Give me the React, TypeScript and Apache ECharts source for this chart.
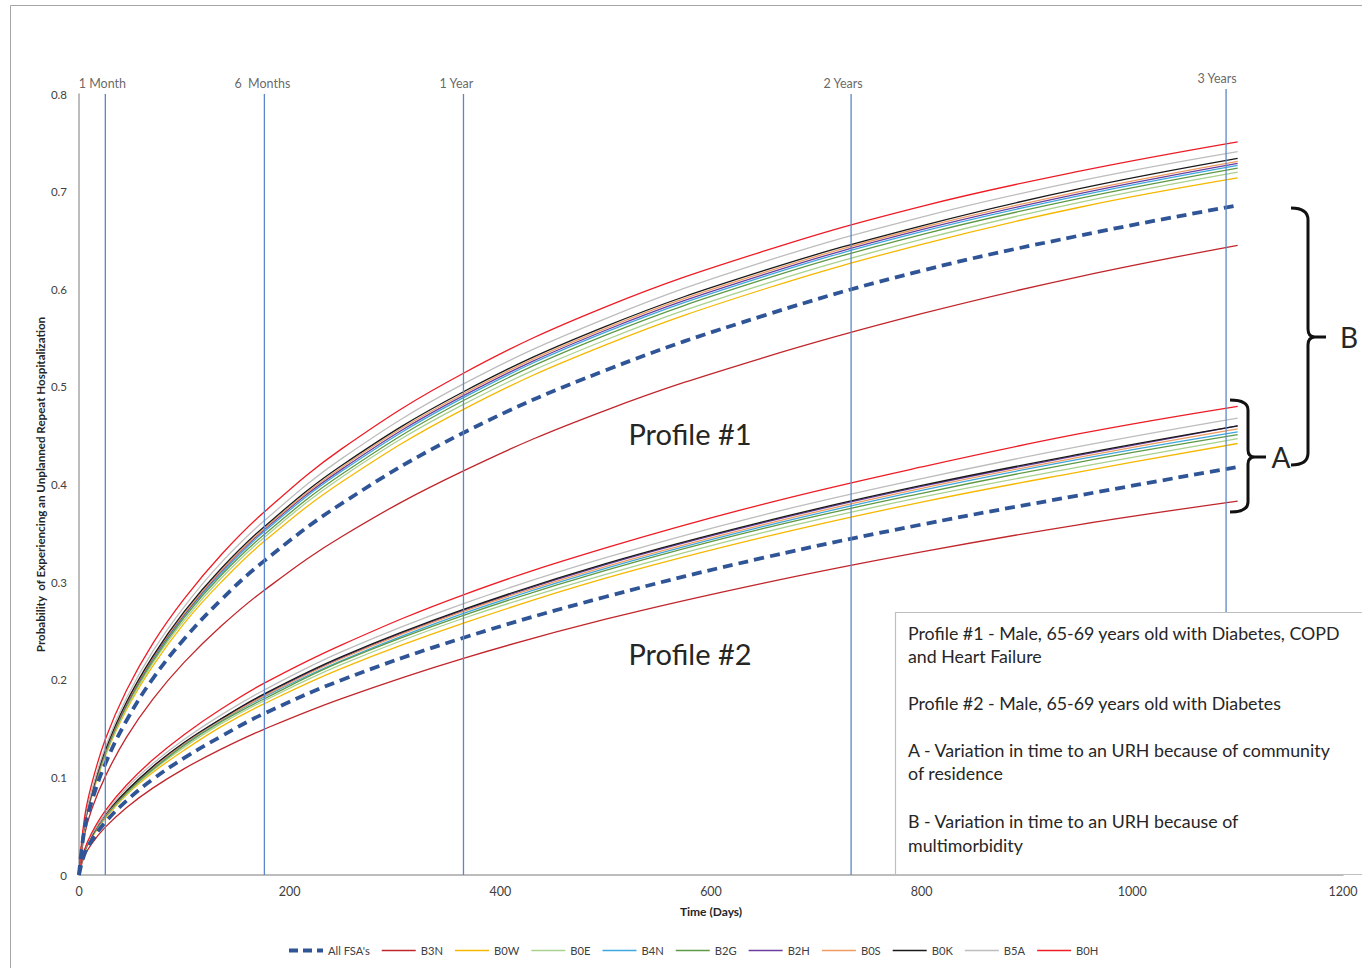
import React, { useEffect, useRef } from "react";
import * as echarts from "echarts";

// ---- data ----
const days = [0, 5, 12, 25, 45, 70, 100, 135, 175, 250, 365, 500, 650, 800, 950, 1100];

const seriesNames = ["All FSA's", "B3N", "B0W", "B0E", "B4N", "B2G", "B2H", "B0S", "B0K", "B5A", "B0H"];
const seriesColors = ["#2F5597", "#C0262C", "#F5B800", "#A9D18E", "#3FA7DE", "#5E9A46", "#6B3FA0", "#EE9B62", "#1A1A1A", "#BDBDBD", "#EE1C25"];

// Profile #1
const p1All = [0, 0.045, 0.075, 0.114, 0.158, 0.201, 0.242, 0.282, 0.321, 0.381, 0.453, 0.517, 0.573, 0.619, 0.655, 0.686];
const p1B3N = [0, 0.040, 0.067, 0.101, 0.141, 0.180, 0.218, 0.255, 0.291, 0.347, 0.414, 0.476, 0.530, 0.575, 0.613, 0.645];
const p1B0W = [0, 0.048, 0.080, 0.122, 0.169, 0.214, 0.258, 0.300, 0.341, 0.403, 0.477, 0.543, 0.600, 0.646, 0.684, 0.714];
const p1B0E = [0, 0.049, 0.081, 0.123, 0.171, 0.217, 0.261, 0.304, 0.345, 0.408, 0.482, 0.548, 0.605, 0.651, 0.689, 0.720];
const p1B4N = [0, 0.050, 0.083, 0.126, 0.174, 0.221, 0.266, 0.309, 0.351, 0.414, 0.489, 0.556, 0.613, 0.659, 0.696, 0.727];
const p1B2G = [0, 0.050, 0.082, 0.125, 0.173, 0.219, 0.264, 0.307, 0.348, 0.411, 0.486, 0.553, 0.610, 0.656, 0.693, 0.724];
const p1B2H = [0, 0.050, 0.083, 0.127, 0.175, 0.222, 0.267, 0.311, 0.353, 0.416, 0.491, 0.558, 0.615, 0.661, 0.698, 0.729];
const p1B0S = [0, 0.051, 0.084, 0.127, 0.176, 0.223, 0.268, 0.312, 0.354, 0.418, 0.493, 0.560, 0.617, 0.663, 0.700, 0.731];
const p1B0K = [0, 0.051, 0.084, 0.128, 0.177, 0.224, 0.270, 0.314, 0.356, 0.420, 0.495, 0.562, 0.619, 0.665, 0.703, 0.734];
const p1B5A = [0, 0.052, 0.086, 0.131, 0.181, 0.229, 0.275, 0.320, 0.362, 0.427, 0.503, 0.570, 0.628, 0.674, 0.711, 0.741];
const p1B0H = [0, 0.057, 0.093, 0.139, 0.189, 0.237, 0.283, 0.328, 0.371, 0.437, 0.514, 0.582, 0.639, 0.685, 0.721, 0.751];

// Profile #2
const p2All = [0, 0.021, 0.035, 0.054, 0.076, 0.098, 0.120, 0.142, 0.165, 0.200, 0.243, 0.285, 0.325, 0.359, 0.389, 0.418];
const p2B3N = [0, 0.019, 0.032, 0.049, 0.069, 0.089, 0.109, 0.129, 0.149, 0.181, 0.222, 0.262, 0.299, 0.331, 0.359, 0.383];
const p2B0W = [0, 0.022, 0.038, 0.058, 0.082, 0.105, 0.128, 0.152, 0.175, 0.212, 0.258, 0.304, 0.346, 0.382, 0.413, 0.442];
const p2B0E = [0, 0.023, 0.039, 0.059, 0.083, 0.107, 0.131, 0.155, 0.178, 0.216, 0.263, 0.308, 0.351, 0.387, 0.418, 0.447];
const p2B4N = [0, 0.023, 0.039, 0.060, 0.085, 0.109, 0.134, 0.158, 0.182, 0.220, 0.268, 0.314, 0.357, 0.394, 0.426, 0.454];
const p2B2G = [0, 0.023, 0.039, 0.060, 0.084, 0.108, 0.133, 0.157, 0.180, 0.219, 0.266, 0.312, 0.355, 0.391, 0.423, 0.451];
const p2B2H = [0, 0.024, 0.040, 0.061, 0.086, 0.111, 0.135, 0.160, 0.184, 0.223, 0.271, 0.318, 0.361, 0.398, 0.430, 0.460];
const p2B0S = [0, 0.024, 0.040, 0.061, 0.086, 0.110, 0.135, 0.159, 0.183, 0.222, 0.270, 0.316, 0.359, 0.396, 0.428, 0.457];
const p2B0K = [0, 0.024, 0.040, 0.062, 0.086, 0.111, 0.136, 0.160, 0.185, 0.224, 0.272, 0.319, 0.362, 0.399, 0.431, 0.460];
const p2B5A = [0, 0.024, 0.041, 0.063, 0.089, 0.114, 0.139, 0.164, 0.189, 0.229, 0.278, 0.325, 0.369, 0.406, 0.439, 0.468];
const p2B0H = [0, 0.025, 0.043, 0.066, 0.092, 0.118, 0.144, 0.170, 0.196, 0.236, 0.287, 0.335, 0.380, 0.418, 0.452, 0.480];

const profile1 = [p1All, p1B3N, p1B0W, p1B0E, p1B4N, p1B2G, p1B2H, p1B0S, p1B0K, p1B5A, p1B0H];
const profile2 = [p2All, p2B3N, p2B0W, p2B0E, p2B4N, p2B2G, p2B2H, p2B0S, p2B0K, p2B5A, p2B0H];

// reference time lines
const refDays = [25, 176, 365, 733, 1089];
const refLabels = ["1 Month", "6  Months", "1 Year", "2 Years", "3 Years"];
const refTop = [0.8, 0.8, 0.8, 0.8, 0.805];
const refLabelShift = [-3, -2, -7, -8, -9];

const xTicks = { min: 0, max: 1200, interval: 200 };
const yTicks = { min: 0, max: 0.8, interval: 0.1 };

const boxLines = [
  "Profile #1 - Male, 65-69 years old with Diabetes, COPD",
  "and Heart Failure",
  "Profile #2 - Male, 65-69 years old with Diabetes",
  "A - Variation in time to an URH because of community",
  "of residence",
  "B - Variation in time to an URH because of",
  "multimorbidity",
];
const boxLineY = [633, 656, 703, 750, 773, 821, 845];

const braceBPath =
  "M1291 208 Q1308 208 1308 220 L1308 329 Q1308 337 1315 337 L1326 337 M1315 337 Q1308 337 1308 345 L1308 453 Q1308 465 1291 465";
const braceAPath =
  "M1230 400 Q1248 400 1248 410 L1248 450 Q1248 457 1255 457 L1266 457 M1255 457 Q1248 457 1248 464 L1248 502 Q1248 512 1230 512";

const solidIcon = "path://M0 0h34v1.4H0z";
const dashedIcon = "path://M0 0h9v3.8H0z M14 0h9v3.8h-9z M28 0h6v3.8h-6z";

let registered = false;
function registerShapes() {
  if (registered) return;
  echarts.graphic.registerShape("braceB", echarts.graphic.extendPath(braceBPath, {}));
  echarts.graphic.registerShape("braceA", echarts.graphic.extendPath(braceAPath, {}));
  registered = true;
}

const FONT = "Lato, 'Noto Sans', sans-serif";

export default function App() {
  const ref = useRef<HTMLDivElement>(null);

  useEffect(() => {
    if (!ref.current) return;
    registerShapes();
    const chart = echarts.init(ref.current, undefined, { renderer: "svg" });

    const curveSeries: any[] = [];
    const order = [1, 2, 3, 4, 5, 6, 7, 8, 9, 10, 0];
    [profile1, profile2].forEach((prof) => {
      order.forEach((i) => {
        const isAll = i === 0;
        curveSeries.push({
          type: "line",
          name: seriesNames[i],
          data: days.map((d, k) => [d, prof[i][k]]),
          smooth: 0.4,
          symbol: "none",
          showSymbol: false,
          color: seriesColors[i],
          lineStyle: {
            color: seriesColors[i],
            width: isAll ? 3.8 : 1.3,
            type: isAll ? [10, 6] : "solid",
          },
          z: isAll ? 4 : 3,
          silent: true,
        });
      });
    });

    const refSeries = refDays.map((d, i) => ({
      type: "line",
      name: "ref" + i,
      data: [
        [d, 0],
        [d, refTop[i]],
      ],
      symbol: "none",
      clip: false,
      lineStyle: { color: "#5B87C8", width: 1.3 },
      z: 5,
      silent: true,
    }));

    const refLabelSeries = {
      type: "scatter",
      name: "refLabels",
      symbolSize: 1,
      clip: false,
      itemStyle: { color: "rgba(0,0,0,0)" },
      data: refDays.map((d, i) => ({
        value: [d, refTop[i]],
        label: { formatter: refLabels[i], offset: [refLabelShift[i], 0] },
      })),
      label: {
        show: true,
        position: "top",
        distance: 4,
        fontSize: 12.5,
        color: "#404040",
        fontFamily: FONT,
      },
      z: 6,
      silent: true,
    };

    const centered = {
      align: "center",
      verticalAlign: "middle",
      textAlign: "center",
      textVerticalAlign: "middle",
    };

    const graphic: any[] = [
      {
        type: "rect",
        shape: { x: 10.5, y: 5.5, width: 1400, height: 1000 },
        style: { fill: "none", stroke: "#A6A6A6", lineWidth: 1 },
        z: 0,
        silent: true,
      },
      {
        type: "rect",
        shape: { x: 895.5, y: 612.5, width: 480, height: 262 },
        style: { fill: "#ffffff", stroke: "#BFBFBF", lineWidth: 1.2 },
        z: 100,
        silent: true,
      },
      ...boxLines.map((t, i) => ({
        type: "text",
        x: 908,
        y: boxLineY[i],
        style: {
          text: t,
          fill: "#262626",
          font: `17.8px ${FONT}`,
          textVerticalAlign: "middle",
          verticalAlign: "middle",
        },
        z: 101,
        silent: true,
      })),
      {
        type: "text",
        x: 690,
        y: 433,
        style: { text: "Profile #1", fill: "#262626", font: `29px ${FONT}`, ...centered },
        z: 101,
        silent: true,
      },
      {
        type: "text",
        x: 690,
        y: 653,
        style: { text: "Profile #2", fill: "#262626", font: `29px ${FONT}`, ...centered },
        z: 101,
        silent: true,
      },
      {
        type: "braceB",
        style: { stroke: "#111", lineWidth: 3, fill: "none" },
        z: 101,
        silent: true,
      },
      {
        type: "braceA",
        style: { stroke: "#111", lineWidth: 3, fill: "none" },
        z: 101,
        silent: true,
      },
      {
        type: "text",
        x: 1349,
        y: 337,
        style: { text: "B", fill: "#262626", font: `28px ${FONT}`, ...centered },
        z: 101,
        silent: true,
      },
      {
        type: "text",
        x: 1281,
        y: 457,
        style: { text: "A", fill: "#262626", font: `28px ${FONT}`, ...centered },
        z: 101,
        silent: true,
      },
    ];

    chart.setOption({
      animation: false,
      backgroundColor: "#ffffff",
      textStyle: { fontFamily: FONT },
      grid: { left: 79, top: 94, width: 1264, height: 781, containLabel: false },
      legend: {
        data: seriesNames.map((n, i) => ({ name: n, icon: i === 0 ? dashedIcon : solidIcon })),
        top: 940,
        left: 284,
        itemWidth: 34,
        itemHeight: 10,
        itemGap: 12,
        textStyle: { fontSize: 11.2, color: "#404040", fontFamily: FONT },
        selectedMode: false,
      },
      xAxis: {
        type: "value",
        min: xTicks.min,
        max: xTicks.max,
        interval: xTicks.interval,
        name: "Time (Days)",
        nameLocation: "middle",
        nameGap: 30,
        nameMoveOverlap: false,
        nameTextStyle: { fontSize: 12, fontWeight: "bold", color: "#262626", fontFamily: FONT },
        axisLine: { show: true, lineStyle: { color: "#A6A6A6", width: 1.5 } },
        axisTick: { show: false },
        splitLine: { show: false },
        axisLabel: {
          fontSize: 12.5,
          color: "#404040",
          margin: 10,
          fontFamily: FONT,
          formatter: (v: number) => String(v),
        },
      },
      yAxis: {
        type: "value",
        min: yTicks.min,
        max: yTicks.max,
        interval: yTicks.interval,
        name: "Probability  of Experiencing an Unplanned Repeat Hospitalization",
        nameLocation: "middle",
        nameGap: 33,
        nameMoveOverlap: false,
        nameTextStyle: { fontSize: 11.6, fontWeight: "bold", color: "#262626", fontFamily: FONT },
        axisLine: { show: true, lineStyle: { color: "#A6A6A6", width: 1.5 } },
        axisTick: { show: false },
        splitLine: { show: false },
        axisLabel: {
          fontSize: 11.5,
          color: "#404040",
          margin: 12,
          fontFamily: FONT,
          formatter: (v: number) => String(Math.round(v * 10) / 10),
        },
      },
      series: [...curveSeries, ...refSeries, refLabelSeries],
      graphic,
    });

    return () => chart.dispose();
  }, []);

  return (
    <div
      ref={ref}
      style={{ position: "fixed", left: 0, top: 0, width: 1362, height: 968, background: "#fff" }}
    />
  );
}
